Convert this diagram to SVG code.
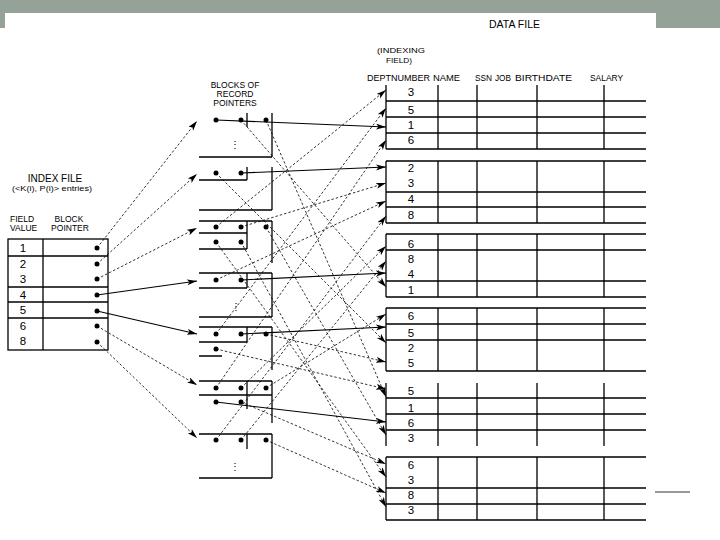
<svg xmlns="http://www.w3.org/2000/svg" width="720" height="540" viewBox="0 0 720 540">
<defs>
<style>
.t{font-family:"Liberation Sans",Arial,Helvetica,sans-serif;fill:#000}
.lb{font-size:8.5px}
.n{font-size:11.5px;text-anchor:middle}
.m{text-anchor:middle}
.ln{stroke:#000;stroke-width:1.3;fill:none}
.d{stroke:#000;stroke-width:0.8;stroke-dasharray:2.5 2;fill:none;marker-end:url(#ah)}
.s{stroke:#000;stroke-width:1.1;fill:none;marker-end:url(#ah)}
.dot{fill:#000}
</style>
<marker id="ah" markerUnits="userSpaceOnUse" markerWidth="11" markerHeight="7" refX="10" refY="3" orient="auto">
<path d="M0,0 L10,3 L0,6 L2.5,3 z" fill="#000"/>
</marker>
</defs>
<rect x="0" y="0" width="720" height="540" fill="#fff"/>
<rect x="0" y="0" width="720" height="28" fill="#94a298"/>
<rect x="5" y="13" width="651" height="16" fill="#fff"/>
<line x1="655" y1="492" x2="690" y2="492" stroke="#333" stroke-width="1"/>

<g id="titles">
<text class="t" x="489" y="28" font-size="11" textLength="51" lengthAdjust="spacingAndGlyphs">DATA FILE</text>
<text class="t" x="377" y="53" font-size="8" textLength="48" lengthAdjust="spacingAndGlyphs">(INDEXING</text>
<text class="t" x="386" y="63" font-size="8" textLength="26" lengthAdjust="spacingAndGlyphs">FIELD)</text>
<text class="t lb m" x="235" y="88">BLOCKS OF</text>
<text class="t lb m" x="235" y="97">RECORD</text>
<text class="t lb m" x="235" y="106">POINTERS</text>
</g>

<g id="index-file">
<text class="t m" x="55" y="182" font-size="10">INDEX FILE</text>
<text class="t m" x="52" y="191" font-size="7.5" textLength="80" lengthAdjust="spacingAndGlyphs">(&lt;K(i), P(i)&gt; entries)</text>
<text class="t lb" x="10" y="222">FIELD</text>
<text class="t lb" x="10" y="231">VALUE</text>
<text class="t lb m" x="69" y="222">BLOCK</text>
<text class="t lb m" x="70" y="231">POINTER</text>
<rect class="ln" x="8" y="239" width="100" height="111"/>
<line class="ln" x1="43" y1="239" x2="43" y2="350"/>
<line class="ln" x1="8" y1="256" x2="108" y2="256"/>
<line class="ln" x1="8" y1="287" x2="108" y2="287"/>
<line class="ln" x1="8" y1="302" x2="108" y2="302"/>
<line class="ln" x1="8" y1="318" x2="108" y2="318"/>
<text class="t n" x="23" y="252">1</text>
<text class="t n" x="23" y="268">2</text>
<text class="t n" x="23" y="283">3</text>
<text class="t n" x="23" y="299">4</text>
<text class="t n" x="23" y="314">5</text>
<text class="t n" x="23" y="330">6</text>
<text class="t n" x="23" y="345">8</text>
<circle class="dot" cx="97" cy="248" r="2.5"/>
<circle class="dot" cx="97" cy="264" r="2.5"/>
<circle class="dot" cx="97" cy="279" r="2.5"/>
<circle class="dot" cx="97" cy="295" r="2.5"/>
<circle class="dot" cx="97" cy="311" r="2.5"/>
<circle class="dot" cx="97" cy="326" r="2.5"/>
<circle class="dot" cx="97" cy="342" r="2.5"/>
</g>

<g id="pointer-block-1">
<path class="ln" d="M247,113 V127 M272,113 V157 M199,157 H272"/>
<text class="t m" x="235" y="148" font-size="10">&#8942;</text>
<circle class="dot" cx="216" cy="120" r="2.5"/><circle class="dot" cx="241" cy="120" r="2.5"/><circle class="dot" cx="266" cy="120" r="2.5"/>
</g>
<g id="pointer-block-2">
<path class="ln" d="M247,167 V180 M199,180 H247 M272,167 V210 M199,210 H272"/>
<circle class="dot" cx="216" cy="173" r="2.5"/><circle class="dot" cx="241" cy="173" r="2.5"/>
</g>
<g id="pointer-block-3">
<path class="ln" d="M199,221 H272 M199,233 H247 M199,249 H247 M247,221 V249 M272,221 V263"/>
<circle class="dot" cx="216" cy="227" r="2.5"/><circle class="dot" cx="241" cy="227" r="2.5"/><circle class="dot" cx="266" cy="227" r="2.5"/>
<circle class="dot" cx="216" cy="242" r="2.5"/><circle class="dot" cx="241" cy="242" r="2.5"/>
</g>
<g id="pointer-block-4">
<path class="ln" d="M199,273 H272 M199,288 H247 M247,273 V288 M272,273 V317 M199,317 H272"/>
<text class="t m" x="236" y="310" font-size="10">&#8942;</text>
<circle class="dot" cx="216" cy="280" r="2.5"/><circle class="dot" cx="241" cy="280" r="2.5"/>
</g>
<g id="pointer-block-5">
<path class="ln" d="M199,327 H272 M199,342 H247 M247,327 V342 M272,327 V370 M199,356 H222"/>
<circle class="dot" cx="216" cy="334" r="2.5"/><circle class="dot" cx="241" cy="334" r="2.5"/><circle class="dot" cx="266" cy="334" r="2.5"/>
<circle class="dot" cx="216" cy="349" r="2.5"/>
</g>
<g id="pointer-block-6">
<path class="ln" d="M199,381 H272 M199,395 H272 M247,381 V409 M272,381 V423"/>
<circle class="dot" cx="216" cy="388" r="2.5"/><circle class="dot" cx="241" cy="388" r="2.5"/><circle class="dot" cx="266" cy="388" r="2.5"/>
<circle class="dot" cx="216" cy="402" r="2.5"/><circle class="dot" cx="241" cy="402" r="2.5"/>
</g>
<g id="pointer-block-7">
<path class="ln" d="M199,434 H272 M247,434 V449 M272,434 V478 M199,478 H272"/>
<text class="t m" x="235" y="470" font-size="10">&#8942;</text>
<circle class="dot" cx="216" cy="440" r="2.5"/><circle class="dot" cx="241" cy="440" r="2.5"/><circle class="dot" cx="266" cy="440" r="2.5"/>
</g>

<g id="data-file-header">
<text class="t lb" x="367" y="81" textLength="63" lengthAdjust="spacingAndGlyphs">DEPTNUMBER</text>
<text class="t lb" x="433" y="81" textLength="27" lengthAdjust="spacingAndGlyphs">NAME</text>
<text class="t lb" x="475" y="81" textLength="17" lengthAdjust="spacingAndGlyphs">SSN</text>
<text class="t lb" x="495" y="81" textLength="16" lengthAdjust="spacingAndGlyphs">JOB</text>
<text class="t lb" x="515" y="81" textLength="57" lengthAdjust="spacingAndGlyphs">BIRTHDATE</text>
<text class="t lb" x="590" y="81" textLength="33" lengthAdjust="spacingAndGlyphs">SALARY</text>
</g>

<g id="data-block-1">
<path class="ln" d="M386,85 V149 M438,85 V149 M477,85 V149 M537,85 V149 M604,85 V149 M386,101 H646 M386,117 H646 M386,133 H646 M386,149 H646"/>
<text class="t n" x="411" y="96">3</text><text class="t n" x="411" y="114">5</text><text class="t n" x="411" y="129">1</text><text class="t n" x="411" y="144">6</text>
</g>
<g id="data-block-2">
<path class="ln" d="M386,161 V223 M438,161 V223 M477,161 V223 M537,161 V223 M604,161 V223 M386,161 H646 M386,192 H646 M386,207 H646 M386,223 H646"/>
<text class="t n" x="411" y="172">2</text><text class="t n" x="411" y="187">3</text><text class="t n" x="411" y="203">4</text><text class="t n" x="411" y="219">8</text>
</g>
<g id="data-block-3">
<path class="ln" d="M386,234 V297 M438,234 V297 M477,234 V297 M537,234 V297 M604,234 V297 M386,234 H646 M386,250 H646 M386,281 H646 M386,297 H646"/>
<text class="t n" x="411" y="248">6</text><text class="t n" x="411" y="263">8</text><text class="t n" x="411" y="278">4</text><text class="t n" x="411" y="294">1</text>
</g>
<g id="data-block-4">
<path class="ln" d="M386,308 V371 M438,308 V371 M477,308 V371 M537,308 V371 M604,308 V371 M386,308 H646 M386,324 H646 M386,340 H646 M386,371 H646"/>
<text class="t n" x="411" y="320">6</text><text class="t n" x="411" y="337">5</text><text class="t n" x="411" y="352">2</text><text class="t n" x="411" y="367">5</text>
</g>
<g id="data-block-5">
<path class="ln" d="M386,383 V446 M438,383 V446 M477,383 V446 M537,383 V446 M604,383 V446 M386,398 H646 M386,414 H646 M386,430 H646"/>
<text class="t n" x="411" y="395">5</text><text class="t n" x="411" y="412">1</text><text class="t n" x="411" y="427">6</text><text class="t n" x="411" y="442">3</text>
</g>
<g id="data-block-6">
<path class="ln" d="M386,457 V520 M438,457 V520 M477,457 V520 M537,457 V520 M604,457 V520 M386,457 H646 M386,488 H646 M386,504 H646 M386,520 H646"/>
<text class="t n" x="411" y="469">6</text><text class="t n" x="411" y="484">3</text><text class="t n" x="411" y="499">8</text><text class="t n" x="411" y="514">3</text>
</g>

<g id="connectors">
<line class="d" x1="97" y1="248" x2="197" y2="121"/>
<line class="d" x1="97" y1="264" x2="197" y2="174"/>
<line class="d" x1="97" y1="279" x2="197" y2="228"/>
<line class="s" x1="97" y1="295" x2="197" y2="281"/>
<line class="s" x1="97" y1="311" x2="197" y2="334"/>
<line class="d" x1="97" y1="326" x2="197" y2="385"/>
<line class="d" x1="97" y1="342" x2="197" y2="438"/>

<line class="s" x1="216" y1="120" x2="386" y2="127"/>
<line class="d" x1="241" y1="120" x2="386" y2="287"/>
<line class="d" x1="266" y1="120" x2="386" y2="397"/>

<line class="d" x1="216" y1="173" x2="386" y2="343"/>
<line class="s" x1="241" y1="173" x2="386" y2="167"/>

<line class="d" x1="216" y1="227" x2="386" y2="90"/>
<line class="d" x1="241" y1="227" x2="386" y2="183"/>
<line class="d" x1="266" y1="227" x2="386" y2="435"/>
<line class="d" x1="216" y1="242" x2="386" y2="477"/>
<line class="d" x1="241" y1="242" x2="386" y2="507"/>

<line class="d" x1="216" y1="280" x2="386" y2="201"/>
<line class="s" x1="241" y1="280" x2="386" y2="273"/>

<line class="d" x1="216" y1="334" x2="386" y2="108"/>
<line class="s" x1="241" y1="334" x2="386" y2="327"/>
<line class="d" x1="266" y1="334" x2="386" y2="362"/>
<line class="d" x1="216" y1="349" x2="386" y2="389"/>

<line class="d" x1="216" y1="388" x2="386" y2="140"/>
<line class="d" x1="241" y1="388" x2="386" y2="246"/>
<line class="d" x1="266" y1="388" x2="386" y2="314"/>
<line class="s" x1="216" y1="402" x2="386" y2="422"/>
<line class="d" x1="241" y1="402" x2="386" y2="464"/>

<line class="d" x1="216" y1="440" x2="386" y2="216"/>
<line class="d" x1="241" y1="440" x2="386" y2="261"/>
<line class="d" x1="266" y1="440" x2="386" y2="493"/>
</g>
</svg>
